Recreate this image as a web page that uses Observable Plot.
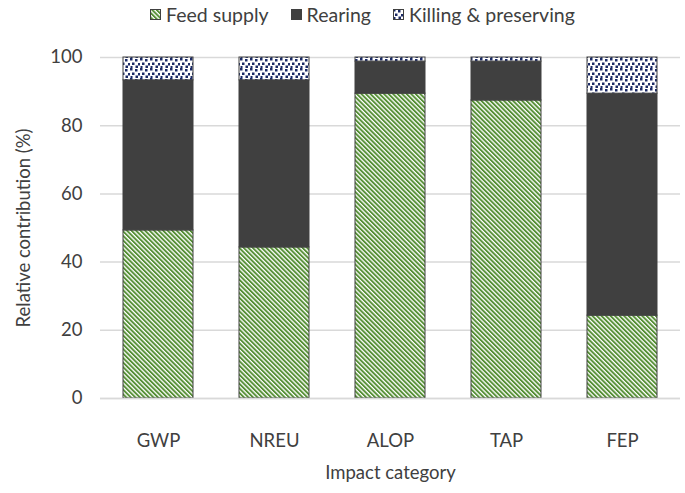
<!DOCTYPE html>
<html>
<head>
<meta charset="utf-8">
<script src="https://cdn.jsdelivr.net/npm/d3@7"></script>
<script src="https://cdn.jsdelivr.net/npm/@observablehq/plot@0.6"></script>
<style>
  body { margin: 0; background: #fff; font-family: Lato, sans-serif; }
  #legend { height: 28px; display: flex; justify-content: center; align-items: center; gap: 22px; font-size: 19.5px; color: #404040; padding-left: 40px; box-sizing: border-box; width: 685px; }
  .item { display: flex; align-items: center; gap: 5px; }
  .sw { width: 11px; height: 11px; }
</style>
</head>
<body>
<svg width="0" height="0" style="position:absolute">
  <defs>
    <pattern id="feedPat" width="3.2" height="3.2" patternUnits="userSpaceOnUse" patternTransform="rotate(-45)">
      <rect width="3.2" height="3.2" fill="#ffffff"></rect>
      <rect width="1.9" height="3.2" fill="#558f35"></rect>
    </pattern>
    <pattern id="killPat" width="10" height="10" patternUnits="userSpaceOnUse">
      <rect width="10" height="10" fill="#ffffff"></rect>
      <rect x="0" y="0" width="2.5" height="2.5" fill="#1b2a66"></rect>
      <rect x="5" y="1" width="2.5" height="2.5" fill="#1b2a66"></rect>
      <rect x="8" y="5" width="2" height="2.5" fill="#1b2a66"></rect>
      <rect x="2" y="4.5" width="2.5" height="2.5" fill="#1b2a66"></rect>
      <rect x="5.5" y="7.5" width="2.5" height="2.5" fill="#1b2a66"></rect>
      <rect x="0.5" y="8" width="2" height="2" fill="#1b2a66"></rect>
    </pattern>
  </defs>
</svg>
<div id="legend"></div>
<div id="chart"></div>
<script>
const categories = ["GWP", "NREU", "ALOP", "TAP", "FEP"];
const series = ["Feed supply", "Rearing", "Killing & preserving"];
const feedSupply = [49.3, 44.3, 89.4, 87.4, 24.3];
const rearing = [44.0, 49.0, 9.4, 11.4, 65.1];
const killing = [6.7, 6.7, 1.2, 1.2, 10.6];
const yTicks = [0, 20, 40, 60, 80, 100];
const fills = ["url(#feedPat)", "#404040", "url(#killPat)"];

const values = [feedSupply, rearing, killing];
const data = [];
series.forEach((s, si) => categories.forEach((c, ci) => data.push({category: c, series: s, value: values[si][ci]})));

const legend = document.getElementById("legend");
series.forEach((s, i) => {
  const item = document.createElement("div");
  item.className = "item";
  item.innerHTML = `<svg class="sw" width="11" height="11"><rect x="0.5" y="0.5" width="10" height="10" fill="${fills[i]}" stroke="#404040" stroke-width="1"></rect></svg><span>${s}</span>`;
  legend.appendChild(item);
});

const chart = Plot.plot({
  width: 685,
  height: 465,
  marginTop: 29,
  marginBottom: 95,
  marginLeft: 100,
  marginRight: 5,
  style: {fontFamily: "Lato, sans-serif", fontSize: "18px", color: "#404040"},
  x: {domain: categories, paddingInner: 0.4, paddingOuter: 0.2},
  y: {domain: [0, 100]},
  color: {domain: series, range: fills},
  marks: [
    Plot.gridY(yTicks, {stroke: "#d9d9d9", strokeOpacity: 1, strokeWidth: 1.5}),
    Plot.barY(data, Plot.stackY({order: series, x: "category", y: "value", fill: "series", stroke: "#404040", strokeWidth: 1})),
    Plot.axisY({ticks: yTicks, tickSize: 0, tickPadding: 18, label: "Relative contribution (%)", labelAnchor: "center", labelArrow: "none", labelOffset: 84, fontSize: 18.5}),
    Plot.axisX({tickSize: 0, tickPadding: 35, label: "Impact category", labelAnchor: "center", labelArrow: "none", labelOffset: 80, fontSize: 18.5}),
    Plot.ruleY([0], {stroke: "#d9d9d9", strokeWidth: 1.5})
  ]
});
document.getElementById("chart").appendChild(chart);
</script>
</body>
</html>
